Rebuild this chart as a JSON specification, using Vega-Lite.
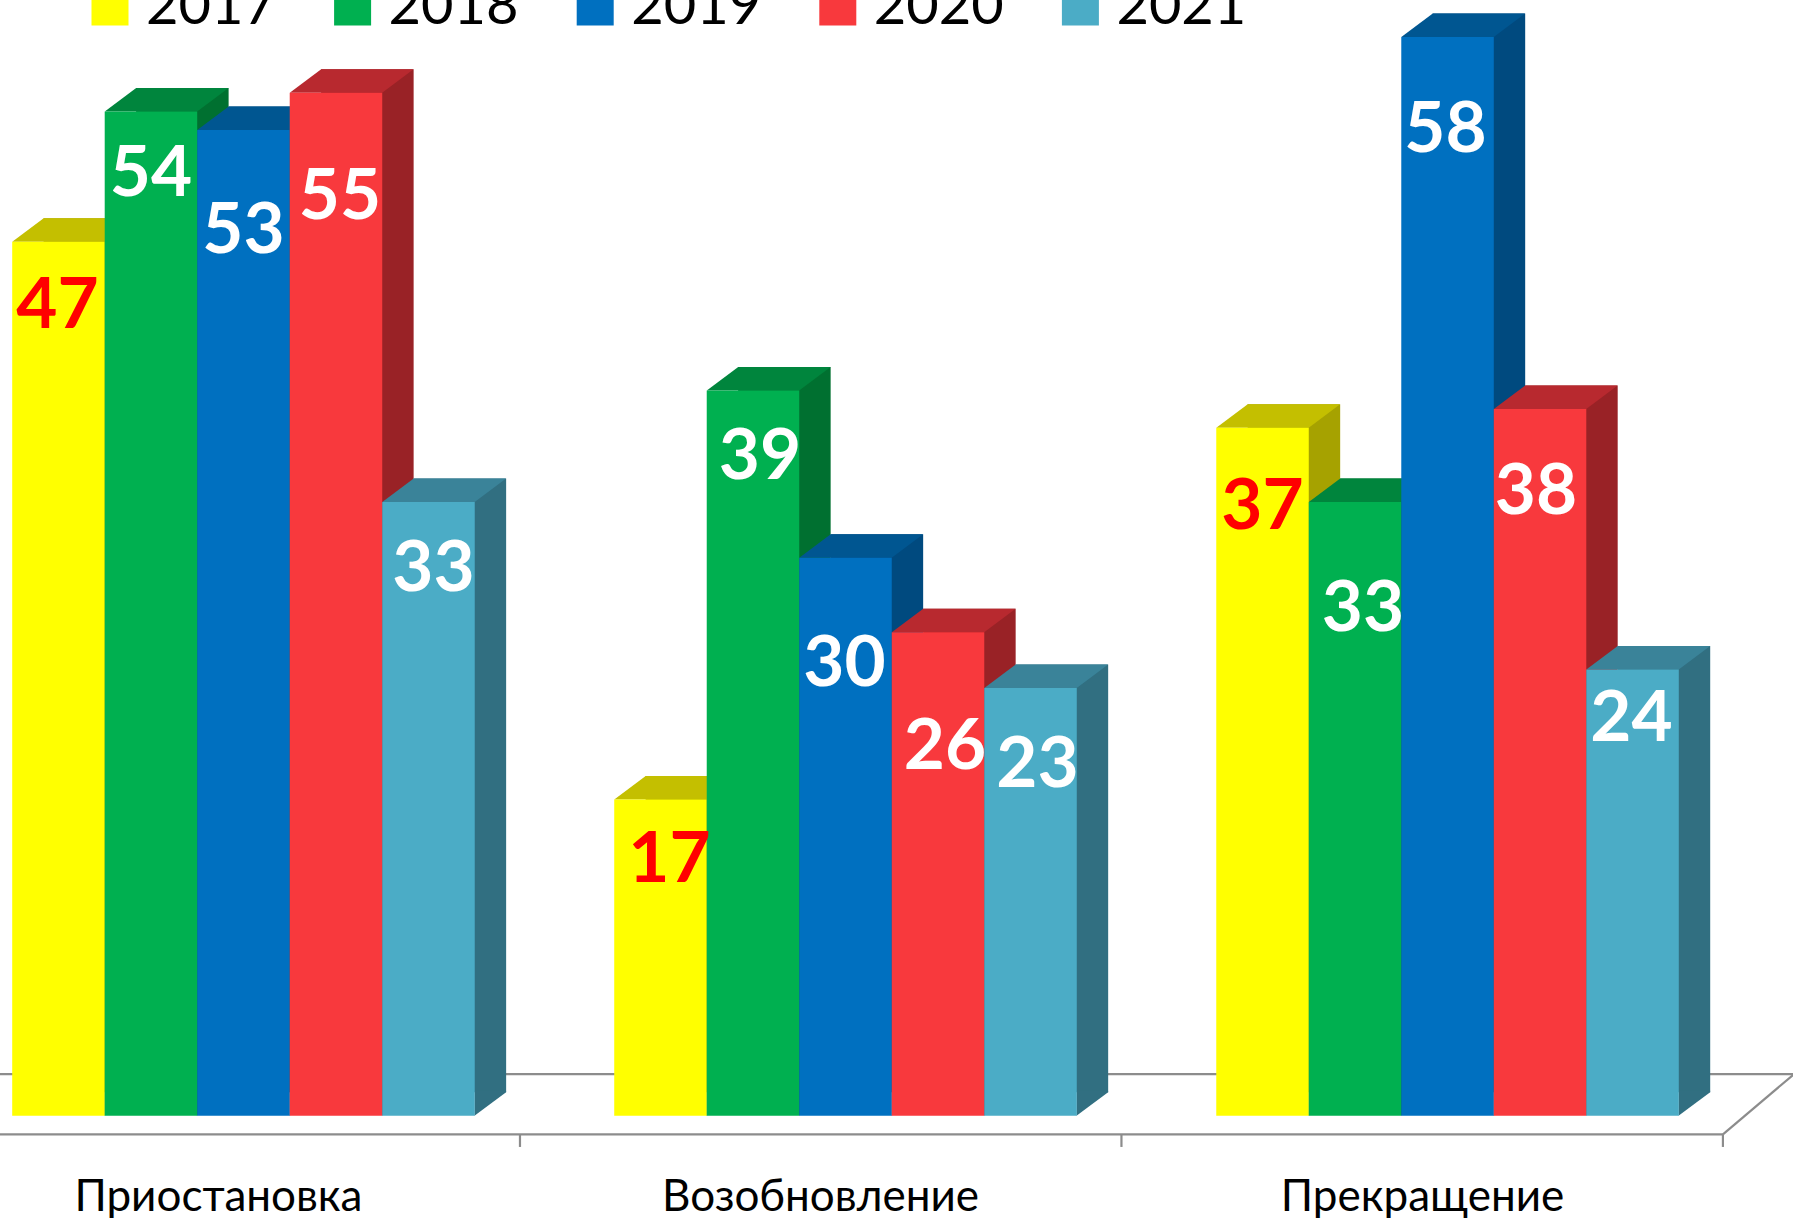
{
"$schema":"https://vega.github.io/schema/vega-lite/v6.json",
"width":1793,"height":1218,"padding":0,"autosize":{"type":"none"},
"background":"white",
"config":{"view":{"stroke":null},"font":"Lato"},
"params":[
{"name":"labelDx","value":{"Приостановка2017":-1,"Приостановка2018":0,"Приостановка2019":0,"Приостановка2020":4,"Приостановка2021":5,"Возобновление2017":9,"Возобновление2018":7,"Возобновление2019":-1,"Возобновление2020":7,"Возобновление2021":7,"Прекращение2017":0,"Прекращение2018":8,"Прекращение2019":-2,"Прекращение2020":-4,"Прекращение2021":-1}},
{"name":"labelDy","value":{"Приостановка2017":65,"Приостановка2018":64,"Приостановка2019":102,"Приостановка2020":105,"Приостановка2021":68,"Возобновление2017":61,"Возобновление2018":68,"Возобновление2019":107,"Возобновление2020":116,"Возобновление2021":78,"Прекращение2017":80,"Прекращение2018":108,"Прекращение2019":94,"Прекращение2020":84,"Прекращение2021":51}}
],
"data":{"values":[
{"category":"Приостановка","year":"2017","value":47},
{"category":"Приостановка","year":"2018","value":54},
{"category":"Приостановка","year":"2019","value":53},
{"category":"Приостановка","year":"2020","value":55},
{"category":"Приостановка","year":"2021","value":33},
{"category":"Возобновление","year":"2017","value":17},
{"category":"Возобновление","year":"2018","value":39},
{"category":"Возобновление","year":"2019","value":30},
{"category":"Возобновление","year":"2020","value":26},
{"category":"Возобновление","year":"2021","value":23},
{"category":"Прекращение","year":"2017","value":37},
{"category":"Прекращение","year":"2018","value":33},
{"category":"Прекращение","year":"2019","value":58},
{"category":"Прекращение","year":"2020","value":38},
{"category":"Прекращение","year":"2021","value":24}
]},
"resolve":{"scale":{"x":"independent","y":"independent","xOffset":"independent","color":"independent"}},
"layer":[
{"data":{"values":[
{"line":"back","pos":0,"level":2.2},{"line":"back","pos":2.981,"level":2.2},
{"line":"front","pos":0,"level":-1.04},{"line":"front","pos":2.8645,"level":-1.04},
{"line":"side","pos":2.8645,"level":-1.04},{"line":"side","pos":2.981,"level":2.15},
{"line":"t1","pos":0.8645,"level":-1.04},{"line":"t1","pos":0.8645,"level":-1.72},
{"line":"t2","pos":1.8645,"level":-1.04},{"line":"t2","pos":1.8645,"level":-1.72},
{"line":"t3","pos":2.8645,"level":-1.04},{"line":"t3","pos":2.8645,"level":-1.72}
]},
"mark":{"type":"line","color":"#8C8C8C","strokeWidth":2.2,"clip":false},
"encoding":{
"x":{"field":"pos","type":"quantitative","axis":null,"scale":{"domain":[0,2.981],"range":[0,1793],"nice":false,"zero":false}},
"y":{"field":"level","type":"quantitative","axis":null,"scale":{"domain":[-5.54,59.95],"range":[1218,0],"nice":false,"zero":false}},
"detail":{"field":"line"}
}},
{"mark":{"type":"bar"},
"encoding":{
"x":{"field":"category","type":"nominal","sort":null,"axis":null,"scale":{"range":[43.6,1710.2],"paddingInner":0.2317,"paddingOuter":0}},
"xOffset":{"field":"year","type":"nominal","sort":null},
"y":{"field":"value","type":"quantitative","axis":null,"scale":{"domain":[-5.54,59.95],"range":[1195.3,-22.7],"nice":false,"zero":false}},
"y2":{"datum":0},
"color":{"field":"year","type":"nominal","legend":null,"scale":{"domain":["2017","2018","2019","2020","2021"],"range":["#A6A200","#007030","#004A7F","#992226","#316F81"]}}
}},
{"mark":{"type":"point","filled":true,"opacity":1,"size":4,"strokeWidth":0,"shape":"M46 0L77.6 -23.5L77.6 -25L46 -25Z"},
"encoding":{
"x":{"field":"category","type":"nominal","sort":null,"axis":null,"scale":{"range":[12.2,1678.8],"paddingInner":0.2317,"paddingOuter":0}},
"xOffset":{"field":"year","type":"nominal","sort":null},
"y":{"datum":0,"type":"quantitative","axis":null,"scale":{"domain":[-5.54,59.95],"range":[1218.8,0.8],"nice":false,"zero":false}},
"color":{"field":"year","type":"nominal","legend":null,"scale":{"domain":["2017","2018","2019","2020","2021"],"range":["#A6A200","#007030","#004A7F","#992226","#316F81"]}}
}},
{"mark":{"type":"point","filled":true,"opacity":1,"size":4,"strokeWidth":0,"shape":"M-46.2 0L46.2 0L77.6 -23.5L-14.8 -23.5Z"},
"encoding":{
"x":{"field":"category","type":"nominal","sort":null,"axis":null,"scale":{"range":[12.2,1678.8],"paddingInner":0.2317,"paddingOuter":0}},
"xOffset":{"field":"year","type":"nominal","sort":null},
"y":{"field":"value","type":"quantitative","axis":null,"scale":{"domain":[-5.54,59.95],"range":[1218.8,0.8],"nice":false,"zero":false}},
"color":{"field":"year","type":"nominal","legend":null,"scale":{"domain":["2017","2018","2019","2020","2021"],"range":["#C4BF00","#00853D","#005691","#B8292F","#3A8399"]}}
}},
{"mark":{"type":"bar"},
"encoding":{
"x":{"field":"category","type":"nominal","sort":null,"title":null,"scale":{"range":[12.2,1678.8],"paddingInner":0.2317,"paddingOuter":0},
"axis":{"domain":false,"ticks":false,"labelAngle":0,"labelFont":"Lato","labelFontSize":44,"labelLimit":0,"labelColor":"#000000","labelBaseline":"alphabetic","labelPadding":0,"offset":-8,"labelOffset":-25}},
"xOffset":{"field":"year","type":"nominal","sort":null},
"y":{"field":"value","type":"quantitative","axis":null,"scale":{"domain":[-5.54,59.95],"range":[1218.8,0.8],"nice":false,"zero":false}},
"y2":{"datum":0},
"color":{"field":"year","type":"nominal","scale":{"domain":["2017","2018","2019","2020","2021"],"range":["#FFFF00","#00B050","#0070C0","#F8393D","#4BACC6"]},
"legend":{"orient":"none","legendX":82,"legendY":-21,"direction":"horizontal","columns":5,"title":null,"padding":0,"symbolType":"square","symbolSize":1369,"symbolStrokeWidth":0,"labelFont":"Lato","labelFontSize":56,"labelColor":"#000000","labelOffset":8,"columnPadding":48.6,"rowPadding":0}}
}},
{"mark":{"type":"text","font":"Lato","fontWeight":"bold","fontSize":71,"baseline":"middle","align":"center","dx":{"expr":"labelDx[datum.category+datum.year]"},"dy":{"expr":"labelDy[datum.category+datum.year]"}},
"encoding":{
"x":{"field":"category","type":"nominal","sort":null,"axis":null,"scale":{"range":[12.2,1678.8],"paddingInner":0.2317,"paddingOuter":0}},
"xOffset":{"field":"year","type":"nominal","sort":null},
"y":{"field":"value","type":"quantitative","axis":null,"scale":{"domain":[-5.54,59.95],"range":[1218.8,0.8],"nice":false,"zero":false}},
"text":{"field":"value","type":"quantitative"},
"color":{"field":"year","type":"nominal","legend":null,"scale":{"domain":["2017","2018","2019","2020","2021"],"range":["#FF0000","#FFFFFF","#FFFFFF","#FFFFFF","#FFFFFF"]}}
}}
]
}
